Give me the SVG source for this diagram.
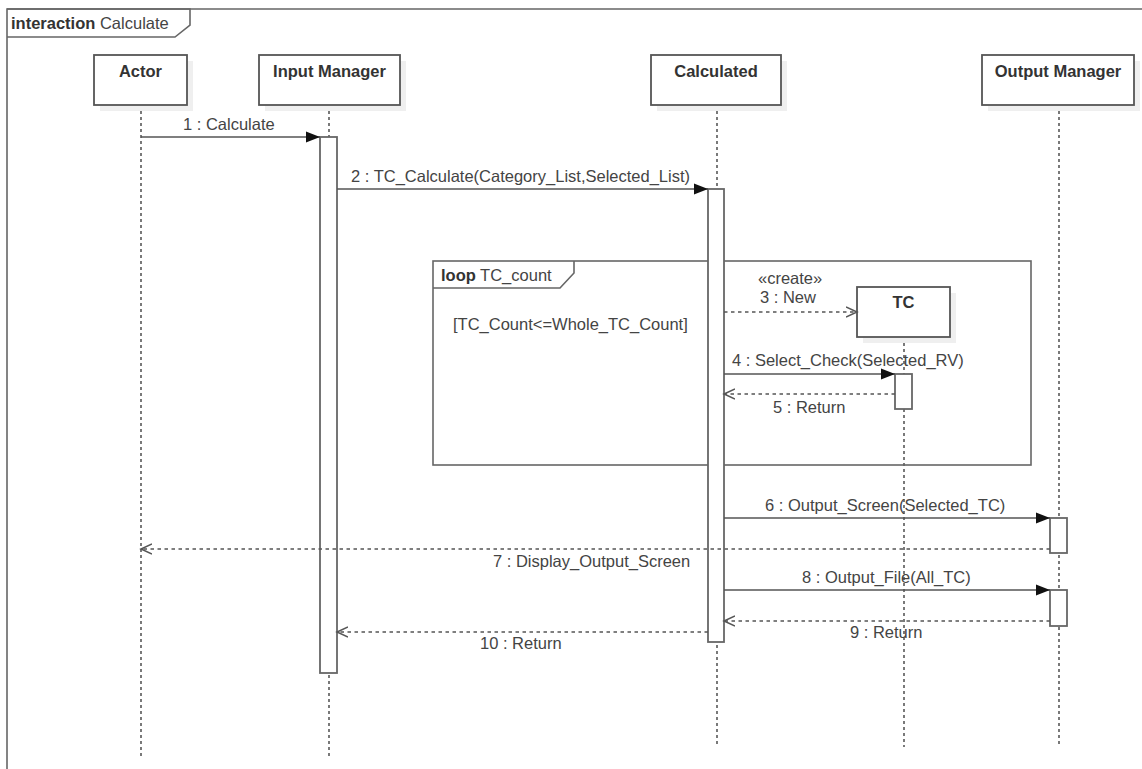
<svg xmlns="http://www.w3.org/2000/svg" width="1142" height="769" viewBox="0 0 1142 769">
  <style>
    text { font-family: "Liberation Sans", Arial, sans-serif; font-size: 16.5px; fill: #444; }
    .title { font-weight: bold; fill: #333; text-anchor: middle; }
    .b { font-weight: bold; fill: #333; }
    .box { fill: #fff; stroke: #555; stroke-width: 1.8; }
    .shadow { fill: #efefef; stroke: none; }
    .life { stroke: #222; stroke-width: 1.2; stroke-dasharray: 3 3; fill: none; }
    .act { fill: #fff; stroke: #666; stroke-width: 1.8; }
    .frame { fill: none; stroke: #666; stroke-width: 1.6; }
    .msg { stroke: #555; stroke-width: 1.6; fill: none; marker-end: url(#filled); }
    .ret { stroke: #555; stroke-width: 1.6; stroke-dasharray: 3.5 3.5; fill: none; marker-end: url(#open); }
  </style>
  <defs>
    <marker id="filled" markerUnits="userSpaceOnUse" markerWidth="16" markerHeight="14" refX="14" refY="6" orient="auto">
      <path d="M0,0.5 L14,6 L0,11.5 Z" fill="#111"/>
    </marker>
    <marker id="open" markerUnits="userSpaceOnUse" markerWidth="14" markerHeight="14" refX="11" refY="6" orient="auto">
      <path d="M0,1 L11,6 L0,11" fill="none" stroke="#555" stroke-width="1.5"/>
    </marker>
  </defs>
  <rect width="1142" height="769" fill="#fff"/>

  <g id="frame-interaction">
    <path class="frame" d="M1142,9 H7 V769"/>
    <path class="frame" d="M7,9 H190 V25 L175,37 H7"/>
    <text x="11" y="29"><tspan class="b">interaction</tspan> Calculate</text>
  </g>

  <g id="lifelines">
    <line class="life" x1="141" y1="105" x2="141" y2="757"/>
    <line class="life" x1="329" y1="105" x2="329" y2="757"/>
    <line class="life" x1="717" y1="105" x2="717" y2="747"/>
    <line class="life" x1="904" y1="337" x2="904" y2="747"/>
    <line class="life" x1="1059" y1="105" x2="1059" y2="747"/>
  </g>

  <g id="node-actor">
    <rect class="shadow" x="100" y="61" width="93" height="50"/>
    <rect class="box" x="94" y="55" width="93" height="50"/>
    <text class="title" x="140.5" y="77">Actor</text>
  </g>
  <g id="node-input-manager">
    <rect class="shadow" x="265" y="61" width="141" height="50"/>
    <rect class="box" x="259" y="55" width="141" height="50"/>
    <text class="title" x="329.5" y="77">Input Manager</text>
  </g>
  <g id="node-calculated">
    <rect class="shadow" x="657" y="61" width="130" height="50"/>
    <rect class="box" x="651" y="55" width="130" height="50"/>
    <text class="title" x="716" y="77">Calculated</text>
  </g>
  <g id="node-output-manager">
    <rect class="shadow" x="988" y="61" width="152" height="50"/>
    <rect class="box" x="982" y="55" width="152" height="50"/>
    <text class="title" x="1058" y="77">Output Manager</text>
  </g>

  <g id="frame-loop">
    <rect class="frame" x="433" y="261" width="598" height="204"/>
    <path class="frame" d="M433,288 H560 L574,273 V261"/>
    <text x="441" y="281"><tspan class="b">loop</tspan> TC_count</text>
    <text x="453" y="330">[TC_Count&lt;=Whole_TC_Count]</text>
  </g>

  <g id="node-tc">
    <rect class="shadow" x="863" y="293" width="93" height="50"/>
    <rect class="box" x="857" y="287" width="93" height="50"/>
    <text class="title" x="903.5" y="308">TC</text>
  </g>

  <g id="activations">
    <rect class="act" x="320" y="137" width="17" height="536"/>
    <rect class="act" x="708" y="189" width="16" height="453"/>
    <rect class="act" x="895" y="374" width="17" height="35"/>
    <rect class="act" x="1050" y="518" width="17" height="35"/>
    <rect class="act" x="1050" y="590" width="17" height="36"/>
  </g>

  <g id="connectors">
    <line class="msg" x1="141" y1="137" x2="320" y2="137"/>
    <text x="183" y="130">1 : Calculate</text>

    <line class="msg" x1="337" y1="189" x2="708" y2="189"/>
    <text x="351" y="182">2 : TC_Calculate(Category_List,Selected_List)</text>

    <line class="ret" x1="724" y1="312" x2="857" y2="312"/>
    <text x="758" y="284">«create»</text>
    <text x="760" y="303">3 : New</text>

    <line class="msg" x1="724" y1="374" x2="895" y2="374"/>
    <text x="732" y="366">4 : Select_Check(Selected_RV)</text>

    <line class="ret" x1="895" y1="394" x2="724" y2="394"/>
    <text x="773" y="413">5 : Return</text>

    <line class="msg" x1="724" y1="518" x2="1050" y2="518"/>
    <text x="765" y="511">6 : Output_Screen(Selected_TC)</text>

    <line class="ret" x1="1050" y1="549" x2="141" y2="549"/>
    <text x="493" y="567">7 : Display_Output_Screen</text>

    <line class="msg" x1="724" y1="590" x2="1050" y2="590"/>
    <text x="802" y="583">8 : Output_File(All_TC)</text>

    <line class="ret" x1="1050" y1="621" x2="724" y2="621"/>
    <text x="850" y="638">9 : Return</text>

    <line class="ret" x1="708" y1="632" x2="337" y2="632"/>
    <text x="480" y="649">10 : Return</text>
  </g>
</svg>
